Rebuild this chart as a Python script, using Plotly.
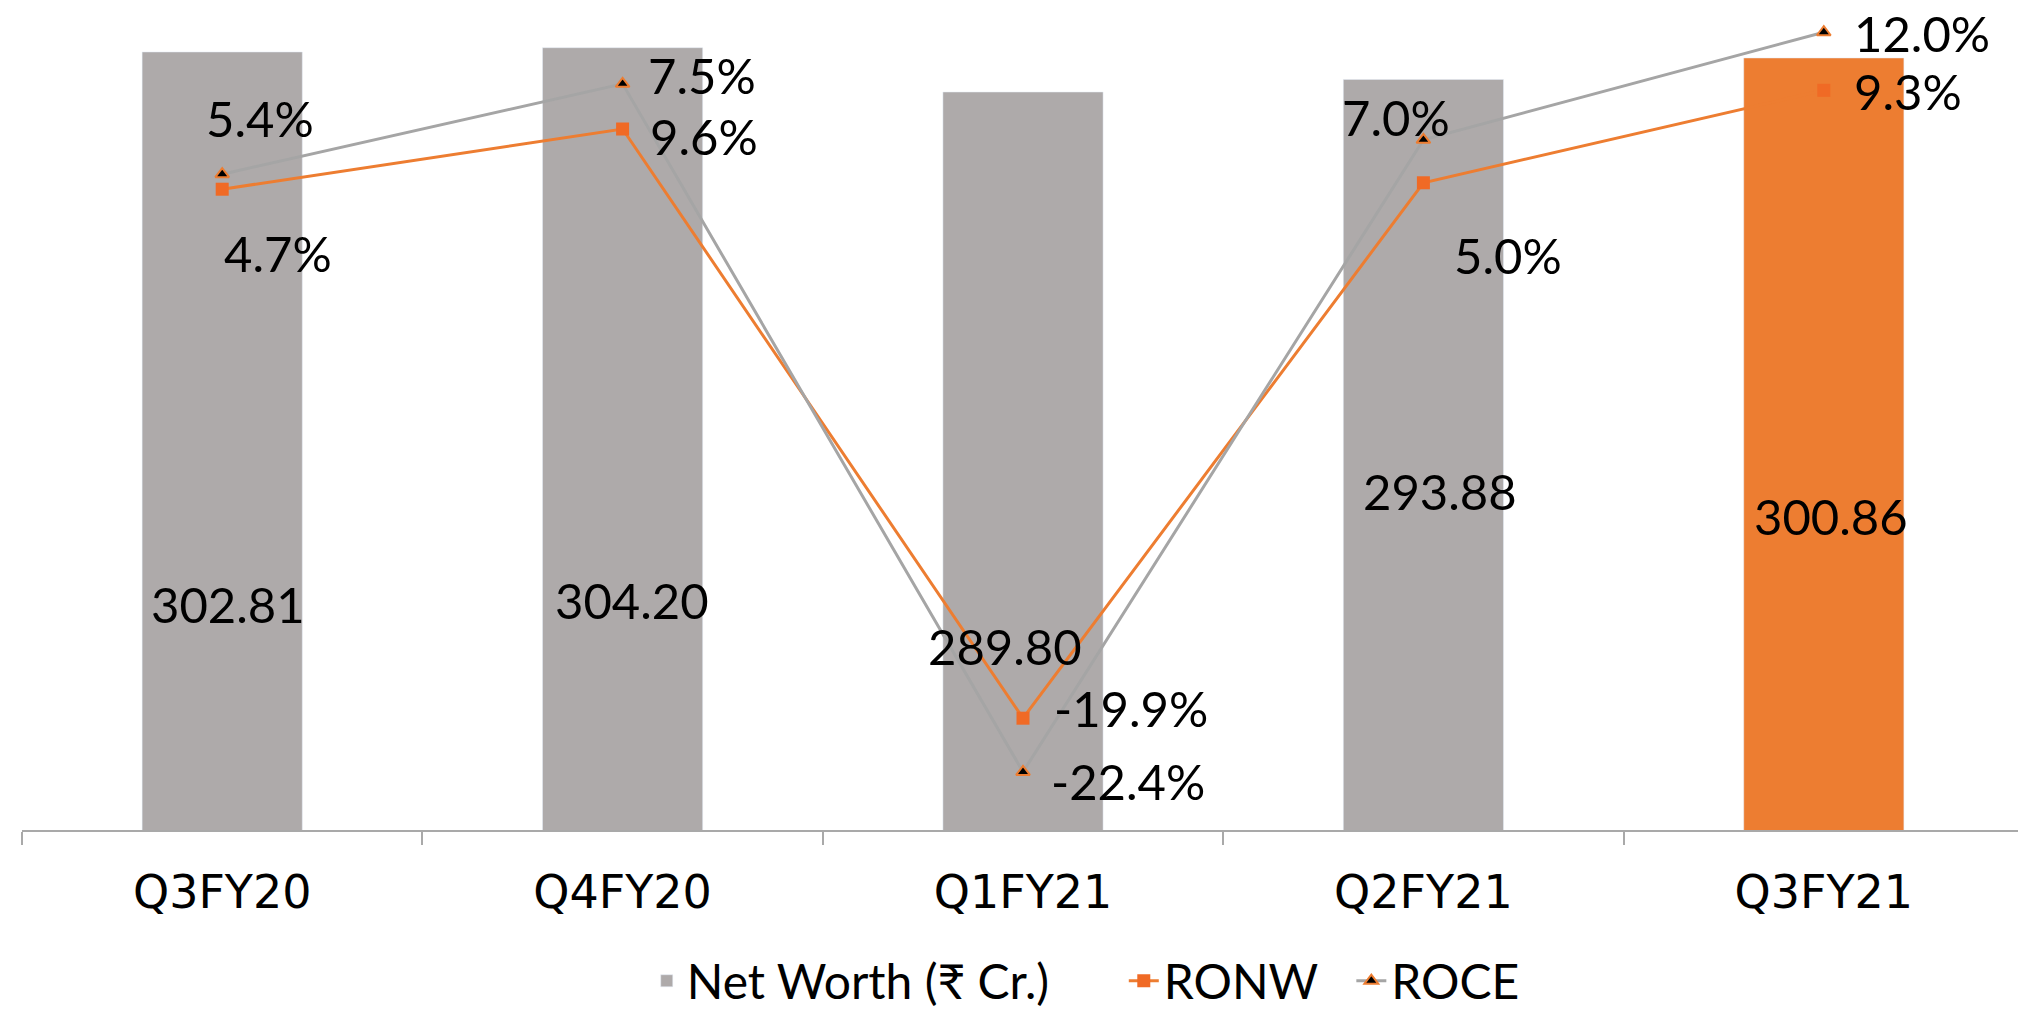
import plotly.graph_objects as go

quarters = ["Q3FY20", "Q4FY20", "Q1FY21", "Q2FY21", "Q3FY21"]
net_worth = [302.81, 304.20, 289.80, 293.88, 300.86]
# line heights as drawn in the source; its Q4FY20 labels sit on the other series' point
ronw = [4.7, 7.5, -19.9, 5.0, 9.3]
roce = [5.4, 9.6, -22.4, 7.0, 12.0]
ronw_text = ["4.7%", "9.6%", "-19.9%", "5.0%", "9.3%"]
roce_text = ["5.4%", "7.5%", "-22.4%", "7.0%", "12.0%"]

bar_colors = ["#AEAAAA"] * 4 + ["#ED7D31"]

# label offsets in px (dx right, dy down) from the point / bar top
nw_off = [(6, 552), (9, 552), (-18, 554), (17, 412), (7, 458)]
ronw_off = [(56, 64), (81, 7), (108, -10), (85, 72), (84, 1)]
roce_off = [(38, -56), (79, -9), (105, 9), (-27, -23), (98, 1)]

label_font = dict(family="Lato", size=49, color="black")
legend_font = dict(family="Lato", size=48, color="black")

fig = go.Figure()
fig.add_trace(go.Bar(x=quarters, y=net_worth, name="Net Worth (₹ Cr.)",
                     marker=dict(color=bar_colors), width=0.4, legend="legend"))
fig.add_trace(go.Scatter(x=quarters, y=ronw, name="RONW", yaxis="y2", mode="lines+markers",
                         line=dict(color="#ED7D31", width=3),
                         marker=dict(symbol="square", size=13, color="#F06A25"),
                         legend="legend2"))
fig.add_trace(go.Scatter(x=quarters, y=roce, name="ROCE", yaxis="y2", mode="lines+markers",
                         line=dict(color="#A5A5A5", width=3),
                         marker=dict(symbol="triangle-up", size=12, color="black",
                                     line=dict(color="#ED7D31", width=2)),
                         legend="legend3"))

annotations = []
for q, v, (dx, dy) in zip(quarters, net_worth, nw_off):
    annotations.append(dict(x=q, y=v, xref="x", yref="y", text=f"{v:.2f}", showarrow=False,
                            xshift=dx, yshift=-dy, font=label_font))
for vals, texts, offs in [(ronw, ronw_text, ronw_off), (roce, roce_text, roce_off)]:
    for q, v, t, (dx, dy) in zip(quarters, vals, texts, offs):
        annotations.append(dict(x=q, y=v, xref="x", yref="y2", text=t, showarrow=False,
                                xshift=dx, yshift=-dy, font=label_font))

leg = dict(orientation="h", y=-0.182, yanchor="middle", xanchor="left",
           font=legend_font, bgcolor="rgba(0,0,0,0)")

fig.update_layout(
    width=2018, height=1015,
    margin=dict(l=22, r=0, t=0, b=185, autoexpand=False),
    paper_bgcolor="white", plot_bgcolor="white",
    bargap=0.6,
    annotations=annotations,
    showlegend=True,
    legend=dict(leg, x=0.313),
    legend2=dict(leg, x=0.552),
    legend3=dict(leg, x=0.666),
    xaxis=dict(range=[-0.5, 4.485], showline=True, linecolor="#A9A9A9", linewidth=2,
               ticks="outside", tickson="boundaries", ticklen=13, tickcolor="#A9A9A9", tickwidth=2,
               ticklabelstandoff=21, showgrid=False,
               tickfont=dict(family="DejaVu Sans", size=46, color="black")),
    yaxis=dict(range=[50, 319.7], visible=False, showgrid=False),
    yaxis2=dict(range=[-25.1, 13.5], overlaying="y", visible=False, showgrid=False),
)

fig.write_html("out.html", config={"displayModeBar": False},
               post_script="document.body.style.margin='0';")
